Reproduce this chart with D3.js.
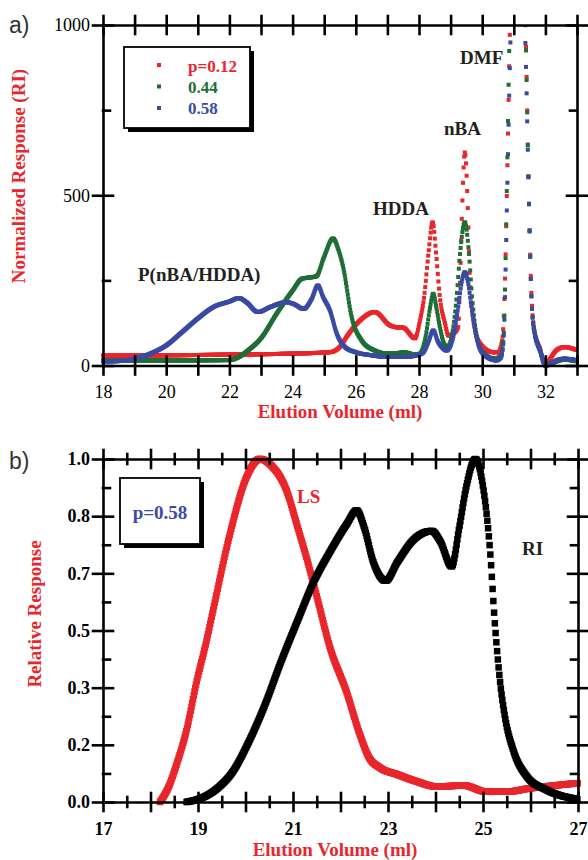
<!DOCTYPE html>
<html>
<head>
<meta charset="utf-8">
<script src="https://cdn.jsdelivr.net/npm/d3@7"></script>
<style>
  body { margin: 0; background: #fff; }
  text { font-family: "Liberation Serif", "Times New Roman", serif; }
</style>
</head>
<body>
<svg id="chart" width="588" height="860"></svg>
<script>
// ---- panel a) : GPC traces, RI detector ----
const redVol  = [18, 20, 22, 24, 25.17, 25.5, 25.7, 26.13, 26.6, 27.08, 27.3, 27.5, 27.87, 28.03, 28.16, 28.3, 28.43, 28.54, 28.66, 28.82, 28.93, 29.1, 29.24, 29.3, 29.36, 29.45, 29.55, 29.61, 29.72, 29.93, 30.35, 30.51, 30.6, 30.66, 30.72, 30.8, 30.88, 31.1, 31.38, 31.47, 31.55, 31.63, 31.84, 32.0, 32.15, 32.35, 32.6, 33];
const redResp = [29, 30, 32, 35, 39, 55, 83, 132, 157, 118, 112, 111, 80, 132, 200, 330, 421, 330, 200, 125, 88, 95, 113, 250, 447, 626, 447, 250, 132, 65, 39, 39, 60, 100, 250, 600, 1000, 1500, 960, 520, 230, 115, 45, 0, 20, 45, 54, 45];

const greenVol  = [18, 20, 22, 22.3, 22.6, 23, 23.5, 24, 24.3, 24.5, 24.75, 25.0, 25.28, 25.45, 25.6, 25.87, 26.19, 26.6, 27, 27.3, 27.5, 27.9, 28.03, 28.2, 28.35, 28.45, 28.55, 28.66, 28.82, 28.9, 29.03, 29.19, 29.3, 29.45, 29.58, 29.68, 29.8, 30.0, 30.4, 30.6, 30.68, 30.78, 30.86, 31.1, 31.38, 31.47, 31.55, 31.63, 31.84, 32.0, 32.15, 32.35, 32.6, 33];
const greenResp = [15, 15, 16, 25, 45, 80, 153, 220, 255, 258, 262, 320, 373, 340, 289, 142, 73, 44, 35, 36, 39, 32, 35, 80, 170, 211, 170, 113, 59, 55, 83, 200, 330, 421, 330, 200, 100, 40, 20, 30, 90, 520, 950, 1500, 950, 520, 220, 110, 40, 0, 3, 12, 17, 12];

const blueVol  = [18, 18.5, 19, 19.5, 20, 20.5, 21, 21.5, 22, 22.3, 22.55, 22.9, 23.3, 23.8, 24.05, 24.35, 24.6, 24.8, 24.97, 25.18, 25.4, 25.66, 26, 26.5, 27, 27.5, 28, 28.14, 28.3, 28.45, 28.6, 28.72, 28.87, 29.08, 29.24, 29.35, 29.45, 29.55, 29.66, 29.82, 30.03, 30.45, 30.6, 30.68, 30.79, 30.88, 31.1, 31.38, 31.47, 31.55, 31.63, 31.84, 32.0, 32.15, 32.35, 32.6, 33];
const blueResp = [12, 13, 20, 35, 59, 98, 138, 172, 188, 198, 185, 157, 172, 186, 180, 166, 195, 235, 200, 162, 93, 54, 39, 30, 25, 25, 32, 39, 70, 103, 70, 54, 44, 83, 172, 245, 274, 245, 172, 83, 34, 15, 25, 83, 505, 900, 1500, 900, 520, 220, 113, 44, 0, 5, 15, 20, 15];

const legendA = ["p=0.12", "0.44", "0.58"];
const xTicksA = [18, 19, 20, 21, 22, 23, 24, 25, 26, 27, 28, 29, 30, 31, 32, 33];
const yMajorA = [0, 500, 1000];
const yMinorA = [250, 750];

// ---- panel b) : LS vs RI for p=0.58 ----
const lsVol  = [18.2, 18.4, 18.55, 18.76, 18.97, 19.18, 19.32, 19.67, 20.03, 20.3, 20.55, 20.86, 21.1, 21.29, 21.5, 21.78, 22.13, 22.4, 22.6, 22.83, 23.2, 23.6, 24.02, 24.6, 25.07, 25.5, 25.99, 26.5, 27];
const lsResp = [0, 0.05, 0.11, 0.21, 0.35, 0.47, 0.56, 0.78, 0.95, 1.0, 0.98, 0.91, 0.8, 0.71, 0.6, 0.45, 0.32, 0.2, 0.13, 0.1, 0.08, 0.06, 0.045, 0.048, 0.03, 0.03, 0.04, 0.048, 0.055];

const riVol  = [18.76, 19.0, 19.2, 19.45, 19.74, 20.05, 20.4, 20.75, 21.1, 21.43, 21.78, 22.13, 22.34, 22.5, 22.69, 22.95, 23.2, 23.54, 23.92, 24.1, 24.34, 24.5, 24.65, 24.84, 25.0, 25.15, 25.25, 25.36, 25.46, 25.64, 25.92, 26.34, 27];
const riResp = [0, 0.008, 0.02, 0.045, 0.09, 0.17, 0.28, 0.41, 0.53, 0.64, 0.73, 0.81, 0.85, 0.8, 0.7, 0.645, 0.7, 0.765, 0.79, 0.76, 0.687, 0.8, 0.92, 1.0, 0.92, 0.73, 0.52, 0.35, 0.25, 0.15, 0.075, 0.035, 0.008];

const xMajorB = [17, 18, 19, 20, 21, 22, 23, 24, 25, 26, 27];
const xMinorB = [17.5, 18.5, 19.5, 20.5, 21.5, 22.5, 23.5, 24.5, 25.5, 26.5];
const yMajorB = [0, 1 / 6, 2 / 6, 3 / 6, 4 / 6, 5 / 6, 1];
const yMinorB = [1 / 12, 3 / 12, 5 / 12, 7 / 12, 9 / 12, 11 / 12];

const RED = "#e8262c", GREEN = "#1f6e36", BLUE = "#3a4aa3", INK = "#231f20";

const svg = d3.select("#chart");

// scales
const xA = d3.scaleLinear().domain([18, 33]).range([103, 577]);
const yA = d3.scaleLinear().domain([0, 1000]).range([365.5, 25]);
const xB = d3.scaleLinear().domain([17, 27]).range([103, 578]);
const yB = d3.scaleLinear().domain([0, 1]).range([802, 459]);

// The detector trace is a row of small squares at an even volume step:
// they merge into a band where the trace is flat and come apart on steep peaks.
function squareTrace(g, vols, resp, x, y, color, size, step) {
  const pts = vols.map((v, i) => [x(v), y(resp[i])]);
  const path = g.append("path")
    .attr("d", d3.line().curve(d3.curveMonotoneX)(pts))
    .attr("fill", "none");
  const node = path.node();
  const len = node.getTotalLength();
  const dense = [];
  for (let l = 0; l < len; l += 0.4) dense.push(node.getPointAtLength(l));
  dense.push(node.getPointAtLength(len));
  path.remove();

  const marks = [];
  let j = 0;
  for (let px = dense[0].x; px <= dense[dense.length - 1].x; px += step) {
    while (j < dense.length - 2 && dense[j + 1].x < px) j++;
    const a = dense[j], b = dense[j + 1];
    const t = b.x === a.x ? 0 : (px - a.x) / (b.x - a.x);
    marks.push([px, a.y + (b.y - a.y) * t]);
  }
  g.append("g").selectAll("rect")
    .data(marks)
    .join("rect")
    .attr("x", d => d[0] - size / 2)
    .attr("y", d => d[1] - size / 2)
    .attr("width", size)
    .attr("height", size)
    .attr("fill", color);
}

// frame with crossing ticks on all four sides
function frame(x, y, o) {
  const [x0, x1] = x.range();
  const [y0, y1] = y.range();
  const g = svg.append("g");

  const bottom = g.append("g").attr("transform", `translate(0,${y0})`)
    .call(d3.axisBottom(x).tickValues(o.xMajor).tickFormat(o.xFmt).tickSizeOuter(0));
  bottom.selectAll(".tick line").attr("y1", -9).attr("y2", 9);
  bottom.selectAll(".tick text").attr("y", 20);

  const top = g.append("g").attr("transform", `translate(0,${y1})`)
    .call(d3.axisTop(x).tickValues(o.xMajor).tickFormat("").tickSizeOuter(0));
  top.selectAll(".tick line").attr("y1", -9).attr("y2", 9);

  const left = g.append("g").attr("transform", `translate(${x0},0)`)
    .call(d3.axisLeft(y).tickValues(o.yMajor).tickFormat(o.yFmt).tickSizeOuter(0));
  left.selectAll(".tick line").attr("x1", -10).attr("x2", 10);
  left.selectAll(".tick text").attr("x", -13);

  const right = g.append("g").attr("transform", `translate(${x1},0)`)
    .call(d3.axisRight(y).tickValues(o.yMajor).tickFormat("").tickSizeOuter(0));
  right.selectAll(".tick line").attr("x1", -10).attr("x2", 10);

  // minor ticks
  if (o.xMinor) {
    [[y0, d3.axisBottom], [y1, d3.axisTop]].forEach(([yy, ax]) => {
      const m = g.append("g").attr("transform", `translate(0,${yy})`)
        .call(ax(x).tickValues(o.xMinor).tickFormat(""));
      m.select(".domain").remove();
      m.selectAll(".tick line").attr("y1", -5).attr("y2", 5);
    });
  }
  [[x0, d3.axisLeft, 7], [x1, d3.axisRight, -7]].forEach(([xx, ax, dir]) => {
    const m = g.append("g").attr("transform", `translate(${xx},0)`)
      .call(ax(y).tickValues(o.yMinor).tickFormat(""));
    m.select(".domain").remove();
    m.selectAll(".tick line").attr("x1", 0).attr("x2", dir);
  });

  g.selectAll("g")
    .attr("font-family", "Liberation Serif, Times New Roman, serif")
    .attr("font-size", 18)
    .attr("font-weight", o.bold ? "bold" : "normal");
  g.selectAll(".domain, .tick line")
    .attr("stroke", "#000")
    .attr("stroke-width", 2.6)
    .attr("stroke-linecap", "square");
  g.selectAll(".tick text").attr("fill", "#000");
  return g;
}

function boxWithShadow(x, y, w, h) {
  svg.append("rect").attr("x", x + 4).attr("y", y + 4).attr("width", w).attr("height", h).attr("fill", "#000");
  svg.append("rect").attr("x", x).attr("y", y).attr("width", w).attr("height", h)
    .attr("fill", "#fff").attr("stroke", "#000").attr("stroke-width", 1.8);
}

// ================= panel a =================
svg.append("defs").append("clipPath").attr("id", "clipA")
  .append("rect").attr("x", 95).attr("y", 25).attr("width", 490).attr("height", 360);

const plotA = svg.append("g").attr("clip-path", "url(#clipA)");
squareTrace(plotA, redVol, redResp, xA, yA, RED, 4, 0.6);
squareTrace(plotA, greenVol, greenResp, xA, yA, GREEN, 4, 0.6);
squareTrace(plotA, blueVol, blueResp, xA, yA, BLUE, 4, 0.6);

frame(xA, yA, {
  xMajor: xTicksA, xFmt: d => (d % 2 === 0 && d < 33 ? d : ""),
  yMajor: yMajorA, yMinor: yMinorA, yFmt: d3.format("d"), bold: false
});

// legend
boxWithShadow(124, 47, 126, 81);
[RED, GREEN, BLUE].forEach((c, i) => {
  svg.append("rect").attr("x", 157).attr("y", 63 + i * 21.5).attr("width", 4).attr("height", 4).attr("fill", c);
  svg.append("text").attr("x", 188).attr("y", 72 + i * 21)
    .attr("font-size", 17).attr("font-weight", "bold").attr("fill", c).text(legendA[i]);
});

// peak labels
const peakLabel = (x, y, s, fill = INK) => svg.append("text").attr("x", x).attr("y", y)
  .attr("font-size", 19).attr("font-weight", "bold").attr("fill", fill).text(s);
peakLabel(460, 64, "DMF");
peakLabel(444, 135, "nBA");
peakLabel(373, 215, "HDDA");
peakLabel(138, 281, "P(nBA/HDDA)");

svg.append("text").attr("transform", "translate(25,176) rotate(-90)")
  .attr("text-anchor", "middle").attr("font-size", 19).attr("font-weight", "bold").attr("fill", RED)
  .text("Normalized Response (RI)");
svg.append("text").attr("x", 340).attr("y", 418).attr("text-anchor", "middle")
  .attr("font-size", 19).attr("font-weight", "bold").attr("fill", RED).text("Elution Volume (ml)");
svg.append("text").attr("x", 9).attr("y", 33).attr("font-size", 23)
  .style("font-family", "Liberation Sans, Arial, sans-serif").attr("fill", "#333").text("a)");

// ================= panel b =================
const plotB = svg.append("g");
squareTrace(plotB, lsVol, lsResp, xB, yB, RED, 6.5, 0.75);
squareTrace(plotB, riVol, riResp, xB, yB, "#000", 6.5, 0.75);

frame(xB, yB, {
  xMajor: xMajorB, xMinor: xMinorB, xFmt: d => (d % 2 === 1 ? d : ""),
  yMajor: yMajorB, yMinor: yMinorB, yFmt: d3.format(".1f"), bold: true
});

boxWithShadow(120, 478, 80, 66);
svg.append("text").attr("x", 160).attr("y", 519).attr("text-anchor", "middle")
  .attr("font-size", 19).attr("font-weight", "bold").attr("fill", BLUE).text("p=0.58");

peakLabel(297, 503, "LS", RED);
peakLabel(522, 555, "RI");

svg.append("text").attr("transform", "translate(41,614) rotate(-90)")
  .attr("text-anchor", "middle").attr("font-size", 19).attr("font-weight", "bold").attr("fill", RED)
  .text("Relative Response");
svg.append("text").attr("x", 335).attr("y", 856).attr("text-anchor", "middle")
  .attr("font-size", 19).attr("font-weight", "bold").attr("fill", RED).text("Elution Volume (ml)");
svg.append("text").attr("x", 9).attr("y", 469).attr("font-size", 23)
  .style("font-family", "Liberation Sans, Arial, sans-serif").attr("fill", "#333").text("b)");
</script>
</body>
</html>
